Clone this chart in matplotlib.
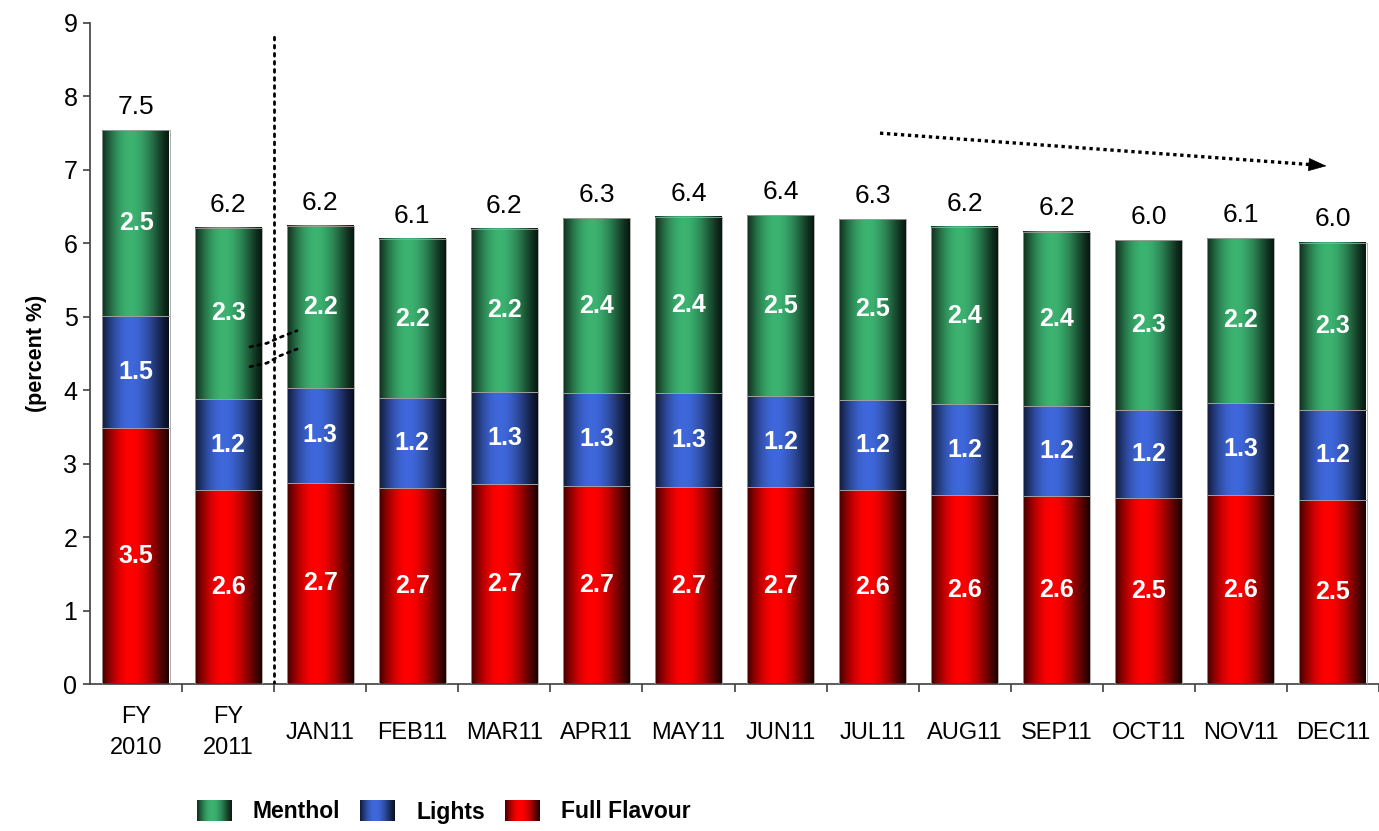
import numpy as np
import matplotlib.pyplot as plt
from matplotlib.colors import to_rgb

plt.rcParams['font.family'] = ['Liberation Sans', 'DejaVu Sans']

categories = ['FY\n2010', 'FY\n2011', 'JAN11', 'FEB11', 'MAR11', 'APR11', 'MAY11',
              'JUN11', 'JUL11', 'AUG11', 'SEP11', 'OCT11', 'NOV11', 'DEC11']
full_flavour = [3.49, 2.64, 2.74, 2.67, 2.72, 2.70, 2.68, 2.68, 2.64, 2.57, 2.56, 2.53, 2.57, 2.51]
lights = [1.52, 1.24, 1.29, 1.22, 1.26, 1.26, 1.28, 1.24, 1.23, 1.24, 1.23, 1.20, 1.26, 1.22]
menthol = [2.53, 2.33, 2.21, 2.17, 2.22, 2.38, 2.40, 2.46, 2.46, 2.41, 2.37, 2.31, 2.24, 2.28]

series = [('Full Flavour', full_flavour, '#ff0000'),
          ('Lights', lights, '#3f68dc'),
          ('Menthol', menthol, '#3cb371')]


def shade(color, n=256):
    # cylinder look: dark edges, bright band a bit left of centre
    c = np.array(to_rgb(color))
    t = np.linspace(0, 1, n)
    f = np.where(t < 0.42,
                 0.25 + 0.75 * np.sin(np.pi / 2 * t / 0.42),
                 0.12 + 0.88 * np.cos(np.pi / 2 * (t - 0.42) / 0.58) ** 1.3)
    return (c[None, :] * f[:, None])[None, :, :]


fig = plt.figure(figsize=(13.79, 8.31), dpi=100)
ax = fig.add_axes([90 / 1379, 147 / 831, 1289 / 1379, 661 / 831])

x = np.arange(len(categories))
bottom = np.zeros(len(categories))
for name, vals, color in series:
    vals = np.array(vals)
    bars = ax.bar(x, vals, width=0.73, bottom=bottom, facecolor='none',
                  edgecolor='#a0a0a0', linewidth=0.6, zorder=3)
    grad = shade(color)
    for b, v in zip(bars, vals):
        ax.imshow(grad, extent=[b.get_x(), b.get_x() + b.get_width(),
                                b.get_y(), b.get_y() + b.get_height()],
                  aspect='auto', zorder=2.5, interpolation='bilinear')
        ax.text(b.get_x() + b.get_width() / 2, b.get_y() + v / 2, f'{v:.1f}',
                ha='center', va='center', color='white', fontsize=18,
                fontweight='bold', zorder=4)
    bottom += vals

for xi, tot in zip(x, bottom):
    ax.annotate(f'{tot:.1f}', (xi, tot), xytext=(0, 8), textcoords='offset points',
                ha='center', va='bottom', fontsize=19, color='black')

# separator between yearly and monthly figures, with axis-break marks
dots = dict(color='black', lw=2, ls=(0, (1, 1.9)), dash_capstyle='round', zorder=5)
ax.plot([1.5, 1.5], [0, 8.83], **dots)
ax.plot([1.238, 1.422, 1.564, 1.748], [4.59, 4.64, 4.72, 4.81], **dots)
ax.plot([1.238, 1.422, 1.564, 1.748], [4.32, 4.37, 4.47, 4.56], **dots)

# downward trend arrow
ax.plot([8.08, 12.78], [7.50, 7.07], color='black', lw=2.4, ls=(0, (1, 1.1)), zorder=5)
ax.annotate('', xy=(12.96, 7.05), xytext=(12.76, 7.07),
            arrowprops=dict(arrowstyle='-|>,head_length=0.6,head_width=0.22',
                            color='black', lw=0.5, mutation_scale=20), zorder=5)

ax.set_xlim(-0.5, 13.5)
ax.set_ylim(0, 9)
ax.set_yticks(range(10))
ax.set_xticks(x)
ax.set_xticklabels(categories, fontsize=17, linespacing=1.55, va='center')
ax.set_xticks(np.arange(0.5, 14, 1), minor=True)
ax.tick_params(axis='x', which='major', length=0, pad=35)
ax.tick_params(axis='x', which='minor', length=6, width=1.2, color='#404040')
ax.tick_params(axis='y', length=5, width=1.2, color='#404040', pad=4, labelsize=18)
ax.set_ylabel('(percent %)', fontsize=15.5, fontweight='bold', labelpad=12)
for s in ['top', 'right']:
    ax.spines[s].set_visible(False)
for s in ['left', 'bottom']:
    ax.spines[s].set_color('#404040')
    ax.spines[s].set_linewidth(1.2)

# legend drawn in pixel coordinates along the bottom
lax = fig.add_axes([0, 0, 1, 70 / 831])
legend_items = [('Menthol', '#3cb371', 197, 253),
                ('Lights', '#3f68dc', 360, 417),
                ('Full Flavour', '#ff0000', 505, 561)]
for name, color, px, tx in legend_items:
    lax.imshow(shade(color), extent=[px, px + 36, 9.5, 30.5], aspect='auto',
               interpolation='bilinear')
    lax.text(tx, 19, name, ha='left', va='center', fontsize=16.5, fontweight='bold')
lax.set_xlim(0, 1379)
lax.set_ylim(0, 70)
lax.axis('off')

fig.savefig('out.png', dpi=100)
